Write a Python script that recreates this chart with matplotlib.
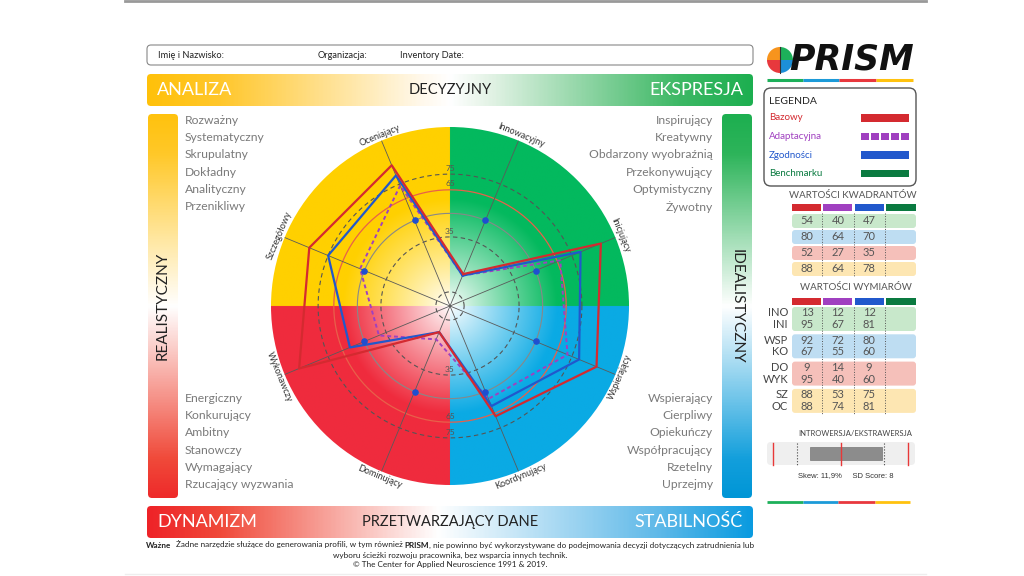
import numpy as np
import matplotlib
matplotlib.use('Agg')
import matplotlib.pyplot as plt
from matplotlib.colors import LinearSegmentedColormap, to_rgb
from matplotlib.patches import FancyBboxPatch, Circle, Wedge, Rectangle

plt.rcParams['font.family'] = ['Lato', 'DejaVu Sans']

W, H = 1024, 576

# ---- data ----
dimensions = ['Innowacyjny', 'Inicjujący', 'Wspierający', 'Koordynujący',
              'Dominujący', 'Wykonawczy', 'Szczegółowy', 'Oceniający']
codes = ['INO', 'INI', 'WSP', 'KO', 'DO', 'WYK', 'SZ', 'OC']
bazowy = [13, 95, 92, 67, 9, 95, 88, 88]
adaptacyjna = [12, 67, 72, 55, 14, 40, 53, 74]
zgodnosci = [12, 81, 80, 60, 9, 60, 75, 81]
midpoint = 50
ring_labels = [35, 65, 75]

kw_bazowy = [54, 80, 52, 88]
kw_adapt = [40, 64, 27, 64]
kw_zgod = [47, 70, 35, 78]

words_tl = ['Rozważny', 'Systematyczny', 'Skrupulatny', 'Dokładny', 'Analityczny', 'Przenikliwy']
words_bl = ['Energiczny', 'Konkurujący', 'Ambitny', 'Stanowczy', 'Wymagający', 'Rzucający wyzwania']
words_tr = ['Inspirujący', 'Kreatywny', 'Obdarzony wyobraźnią', 'Przekonywujący', 'Optymistyczny', 'Żywotny']
words_br = ['Wspierający', 'Cierpliwy', 'Opiekuńczy', 'Współpracujący', 'Rzetelny', 'Uprzejmy']

legend_names = ['Bazowy', 'Adaptacyjna', 'Zgodności', 'Benchmarku']

ie_box = (29, 78)
ie_red = [4, 50, 95]
ie_dotted = [20, 79]
skew = '11,9%'
sd_score = 8

RED = '#D42A30'
PURPLE = '#A040C0'
BLUE = '#2158CC'
GREEN = '#0A7A40'

fig = plt.figure(figsize=(W / 100, H / 100), dpi=100)
ax = fig.add_axes([0, 0, 1, 1])
ax.axis('off')


def rbox(x, y, w, h, r=3, **kw):
    p = FancyBboxPatch((x, y), w, h, boxstyle=f'round,pad=0,rounding_size={r}', **kw)
    ax.add_patch(p)
    return p


def grad_box(x, y, w, h, stops, vertical=False, r=4):
    clip = rbox(x, y, w, h, r=r, fc='none', ec='none')
    cmap = LinearSegmentedColormap.from_list('g', stops)
    g = np.linspace(0, 1, 400)
    img = g[:, None] if vertical else g[None, :]
    im = ax.imshow(img, cmap=cmap, extent=(x, x + w, y + h, y), aspect='auto',
                   interpolation='bilinear', zorder=1)
    im.set_clip_path(clip)


# page lines
ax.plot([125, 926], [1, 1], color='#999999', lw=2)
ax.plot([125, 926], [574, 574], color='#eeeeee', lw=1)

# header box
rbox(147, 45, 606, 20, r=4, fc='white', ec='#888888', lw=0.8)
for x, s in [(158, 'Imię i Nazwisko:'), (318, 'Organizacja:'), (400, 'Inventory Date:')]:
    ax.text(x, 55.5, s, fontsize=6.7, va='center', color='#222222')

# banners
grad_box(147, 74, 606, 32, [(0, '#FFC10A'), (0.12, '#FFC72C'), (0.45, '#FFF8EA'), (0.5, '#FFFFFF'),
                            (0.56, '#E6F4E8'), (0.88, '#3DB865'), (1, '#1DAF50')])
ax.text(157, 90, 'ANALIZA', fontsize=13, color='white', va='center')
ax.text(450, 90, 'DECYZYJNY', fontsize=10.5, color='#222222', va='center', ha='center')
ax.text(743, 90, 'EKSPRESJA', fontsize=13, color='white', va='center', ha='right')

grad_box(147, 506, 606, 32, [(0, '#EE2328'), (0.12, '#F04A3A'), (0.48, '#FFFFFF'),
                             (0.85, '#5DB8E8'), (1, '#0A9BE0')])
ax.text(157, 522, 'DYNAMIZM', fontsize=13, color='white', va='center')
ax.text(450, 522, 'PRZETWARZAJĄCY DANE', fontsize=10.5, color='#222222', va='center', ha='center')
ax.text(743, 522, 'STABILNOŚĆ', fontsize=13, color='white', va='center', ha='right')

grad_box(148, 114, 30, 384, [(0, '#FFC20E'), (0.1, '#FFC828'), (0.5, '#FFFFFF'), (0.9, '#F04A3A'),
                             (1, '#EE2A2A')], vertical=True)
ax.text(163, 306, 'REALISTYCZNY', fontsize=11, rotation=90, ha='center', va='center', color='#222222')
grad_box(722, 114, 30, 384, [(0, '#1DAF50'), (0.1, '#2DB45A'), (0.5, '#FFFFFF'), (0.9, '#139FDC'),
                             (1, '#0096D6')], vertical=True)
ax.text(737, 306, 'IDEALISTYCZNY', fontsize=11, rotation=-90, ha='center', va='center', color='#222222')

# word lists
for i, s in enumerate(words_tl):
    ax.text(185, 120 + i * 17.4, s, fontsize=8.7, color='#7a7a7a', va='center')
for i, s in enumerate(words_bl):
    ax.text(185, 398 + i * 17.4, s, fontsize=8.7, color='#7a7a7a', va='center')
for i, s in enumerate(words_tr):
    ax.text(713, 120 + i * 17.4, s, fontsize=8.7, color='#7a7a7a', va='center', ha='right')
for i, s in enumerate(words_br):
    ax.text(713, 398 + i * 17.4, s, fontsize=8.7, color='#7a7a7a', va='center', ha='right')

# circle background with quadrant colours fading to white at the centre
cx, cy, R = 450, 306, 179
N = 500
xs = np.linspace(-1, 1, N)
XX, YY = np.meshgrid(xs, -xs)
rr = np.hypot(XX, YY)
t = np.clip(rr / 0.6, 0, 1) ** 0.9
quad = {(False, True): '#FFD000', (True, True): '#04B95E',
        (True, False): '#0BAAE4', (False, False): '#EF2B3D'}
img = np.ones((N, N, 3))
for (right, top), col in quad.items():
    m = ((XX > 0) == right) & ((YY > 0) == top)
    c = np.array(to_rgb(col))
    img[m] = 1 - t[m][:, None] * (1 - c)
circ = Circle((cx, cy), R, fc='none', ec='none')
ax.add_patch(circ)
im = ax.imshow(img, extent=(cx - R, cx + R, cy + R, cy - R), aspect='auto', zorder=1)
im.set_clip_path(circ)

# radar axes
pax = fig.add_axes([(cx - R) / W, (H - cy - R) / H, 2 * R / W, 2 * R / H], projection='polar')
pax.set_facecolor('none')
pax.patch.set_alpha(0)
pax.spines['polar'].set_visible(False)
pax.grid(False)
pax.set_xticks([])
pax.set_yticks([])
rmin, rmax = -9, 105
pax.set_rlim(rmin, rmax)

theta = np.deg2rad(67.5 - 45 * np.arange(len(dimensions)))
full = np.linspace(0, 2 * np.pi, 361)
pax.plot(full, np.full_like(full, 0), color='#555555', lw=0.8, ls=(0, (4, 3)))
pax.plot(full, np.full_like(full, 35), color='#555555', lw=0.8, ls=(0, (4, 3)))
pax.plot(full, np.full_like(full, midpoint), color='#888888', lw=0.8)
pax.plot(full, np.full_like(full, 65), color='#E8604A', lw=0.9)
pax.plot(full, np.full_like(full, 75), color='#555555', lw=0.8, ls=(0, (4, 3)))
for th in theta:
    pax.plot([th, th], [rmin, rmax], color='#5a5a5a', lw=0.6)
for v in ring_labels:
    pax.text(np.pi / 2, v + 1.5, str(v), fontsize=6, color='#555555', ha='center', va='bottom')
    pax.text(-np.pi / 2, v - 1.5, str(v), fontsize=6, color='#555555', ha='center', va='bottom')

closed = np.append(theta, theta[0])
pax.plot(closed, adaptacyjna + adaptacyjna[:1], color=PURPLE, lw=1.4, ls=(0, (2, 1.5)), zorder=3)
pax.plot(closed, zgodnosci + zgodnosci[:1], color=BLUE, lw=1.6, zorder=4)
pax.plot(closed, bazowy + bazowy[:1], color=RED, lw=1.6, zorder=5)
pax.scatter(theta, [midpoint] * len(theta), s=14, color='#1F4FD0', zorder=6)

# dimension labels around the circle
for th, name in zip(theta, dimensions):
    deg = np.rad2deg(th)
    px = cx + (R + 1) * np.cos(th)
    py = cy - (R + 1) * np.sin(th)
    if np.sin(th) > 0:
        ax.text(px, py, name, fontsize=6.5, color='#333333', rotation=deg - 90,
                ha='center', va='bottom', rotation_mode='anchor', zorder=5)
    else:
        ax.text(px, py, name, fontsize=6.5, color='#333333', rotation=deg + 90,
                ha='center', va='top', rotation_mode='anchor', zorder=5)

# ---- right panel ----
bx, by, br = 780, 60, 13
for a1, a2, col in [(270, 360, '#1DB05A'), (180, 270, '#F7941D'), (90, 180, '#E8383D'), (0, 90, '#1C8FD8')]:
    ax.add_patch(Wedge((bx, by), br, a1, a2, fc=col, ec='none', zorder=3))
ax.plot([bx, bx], [by - br, by + br], color='#333333', lw=0.8, zorder=4)
ax.text(789, 60, 'PRISM', fontsize=25, fontweight='bold', style='italic', color='#111111',
        va='center', ha='left', family=['DejaVu Sans'])
for x0, x1, col in [(767, 803, '#1DB05A'), (803, 839, '#1C9AD8'), (839, 876, '#E8383D'), (876, 913, '#FFC20E')]:
    ax.plot([x0, x1], [80, 80], color=col, lw=2.2, solid_capstyle='butt')

rbox(764, 88, 152, 98, r=7, fc='white', ec='#555555', lw=1)
ax.text(769, 102, 'LEGENDA', fontsize=7.5, color='#222222', va='center')
leg_cols = [RED, PURPLE, BLUE, GREEN]
for i, (name, col) in enumerate(zip(legend_names, leg_cols)):
    y = 118 + i * 18.5
    ax.text(769, y, name, fontsize=7, color=col, va='center')
    if i == 1:
        for k in range(5):
            ax.add_patch(Rectangle((861 + k * 10.1, y - 3.6), 7.6, 7.2, fc=col, ec='none'))
    else:
        ax.add_patch(Rectangle((861, y - 3.6), 48, 7.2, fc=col, ec='none'))

col_x = [807, 838, 869]
hdr = [(792, 821, RED), (823, 852, PURPLE), (855, 884, BLUE), (886, 916, GREEN)]
row_cols = ['#C8E8CB', '#BEDDF2', '#F5C0BA', '#FDE6B2']

ax.text(853, 195, 'WARTOŚCI KWADRANTÓW', fontsize=7, color='#555555', ha='center', va='center')
for x0, x1, col in hdr:
    ax.add_patch(Rectangle((x0, 204), x1 - x0, 7, fc=col, ec='none'))
for i in range(4):
    yc = 221 + i * 16
    rbox(792, yc - 7, 124, 14, r=3, fc=row_cols[i], ec='none')
    for x, v in zip(col_x, [kw_bazowy[i], kw_adapt[i], kw_zgod[i]]):
        ax.text(x, yc, str(v), fontsize=8, color='#555555', ha='center', va='center')
for x in [822, 853.5, 885]:
    ax.plot([x, x], [213, 277], color='#555555', lw=0.7, ls=':')

ax.text(856, 287, 'WARTOŚCI WYMIARÓW', fontsize=7, color='#555555', ha='center', va='center')
for x0, x1, col in hdr:
    ax.add_patch(Rectangle((x0, 298), x1 - x0, 7, fc=col, ec='none'))
row_y = []
for g in range(4):
    y0 = 307 + g * 27.3
    rbox(792, y0, 124, 24, r=3, fc=row_cols[g], ec='none')
    row_y += [y0 + 6, y0 + 17.5]
for i, code in enumerate(codes):
    ax.text(788, row_y[i], code, fontsize=8, color='#444444', ha='right', va='center')
    for x, v in zip(col_x, [bazowy[i], adaptacyjna[i], zgodnosci[i]]):
        ax.text(x, row_y[i], str(v), fontsize=8, color='#555555', ha='center', va='center')
for x in [822, 853.5, 885]:
    ax.plot([x, x], [307, 414], color='#555555', lw=0.7, ls=':')

# introversion / extraversion bar
ax.text(855, 434, 'INTROWERSJA/EKSTRAWERSJA', fontsize=5.5, color='#444444', ha='center', va='center')
bar_x0, bar_w = 767, 148
rbox(bar_x0, 442, bar_w, 23, r=4, fc='#EFEFEF', ec='none')


def ie_px(v):
    return bar_x0 + v / 100 * bar_w


ax.add_patch(Rectangle((ie_px(ie_box[0]), 446.5), ie_px(ie_box[1]) - ie_px(ie_box[0]), 13.5,
                       fc='#8C8C8C', ec='#777777', lw=0.5, zorder=3))
for v in ie_red:
    ax.plot([ie_px(v), ie_px(v)], [443, 465], color='#E83838', lw=1, zorder=4)
for v in ie_dotted:
    ax.plot([ie_px(v), ie_px(v)], [443, 465], color='#444444', lw=0.8, ls=':', zorder=4)
ax.text(846, 476, f'Skew: {skew}     SD Score: {sd_score}', fontsize=5.5, color='#333333',
        ha='center', va='center', family=['Liberation Sans', 'DejaVu Sans'])
for x0, x1, col in [(767, 803, '#1DB05A'), (803, 838, '#1C9AD8'), (838, 875, '#E8383D'), (875, 910, '#FFC20E')]:
    ax.plot([x0, x1], [502, 502], color=col, lw=2, solid_capstyle='butt')

# footer
renderer = fig.canvas.get_renderer()


def rich_line(segments, y, xc, fs):
    gap = fs * 100 / 72 * 0.28
    items = []
    for s, bold, sp in segments:
        tx = ax.text(0, y, s, fontsize=fs, fontweight='bold' if bold else 'normal',
                     color='#222222', ha='left', va='center')
        items.append((tx, tx.get_window_extent(renderer).width, sp))
    total = sum(w for _, w, _ in items) + sum(gap * sp for _, _, sp in items)
    x = xc - total / 2
    for tx, w, sp in items:
        x += gap * sp
        tx.set_x(x)
        x += w


rich_line([('Ważne', True, 0),
           ('Żadne narzędzie służące do generowania profili, w tym również', False, 2),
           ('PRISM', True, 1),
           (', nie powinno być wykorzystywane do podejmowania decyzji dotyczących zatrudnienia lub', False, 0)],
          545, 450, 5.9)
ax.text(450, 555, 'wyboru ścieżki rozwoju pracownika, bez wsparcia innych technik.', fontsize=5.9,
        color='#222222', ha='center', va='center')
ax.text(450, 565, '© The Center for Applied Neuroscience 1991 & 2019.', fontsize=5.9,
        color='#222222', ha='center', va='center')

ax.set_xlim(0, W)
ax.set_ylim(H, 0)
fig.savefig('out.png', dpi=100)
